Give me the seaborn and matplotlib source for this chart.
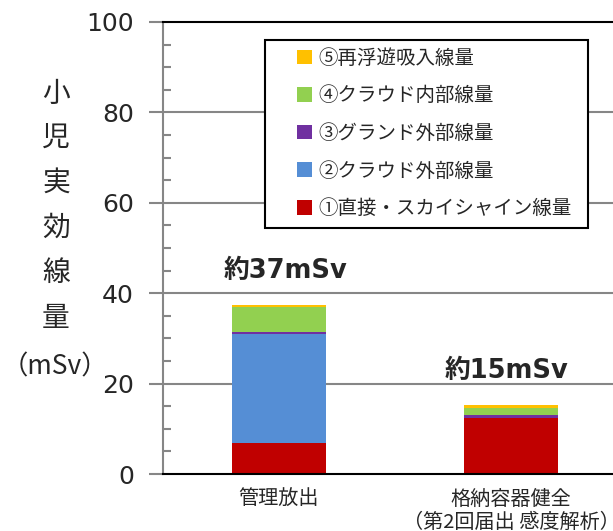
import matplotlib
matplotlib.use("Agg")
import matplotlib.pyplot as plt
import seaborn as sns
import pandas as pd
import numpy as np
from matplotlib.patches import Patch, Rectangle
from matplotlib.ticker import MultipleLocator

sns.set_theme(style="white")
plt.rcParams['font.family'] = ['Noto Sans CJK JP', 'DejaVu Sans']

categories = ["管理放出", "格納容器健全\n（第2回届出 感度解析）"]
series_names = ["①直接・スカイシャイン線量", "②クラウド外部線量", "③グランド外部線量",
                "④クラウド内部線量", "⑤再浮遊吸入線量"]
direct = [6.8, 12.4]
cloud_ext = [24.2, 0.1]
ground_ext = [0.4, 0.5]
cloud_int = [5.6, 1.7]
resusp = [0.4, 0.5]
colors = ["#C00000", "#558ED5", "#7030A0", "#92D050", "#FFC000"]
totals_text = ["約37mSv", "約15mSv"]
yticks = [0, 20, 40, 60, 80, 100]

layers = [direct, cloud_ext, ground_ext, cloud_int, resusp]
cum = np.cumsum(np.array(layers), axis=0)

fig = plt.figure(figsize=(6.13, 5.31), dpi=100)
ax_left = 163/613
ax_w = 1 - ax_left + 0.2
ax = fig.add_axes([ax_left, 1-474/531, ax_w, (474-22)/531])

for i in range(len(layers) - 1, -1, -1):
    df = pd.DataFrame({"cat": categories, "val": cum[i]})
    sns.barplot(data=df, x="cat", y="val", color=colors[i], width=0.405,
                saturation=1, ax=ax, order=categories, edgecolor="none", linewidth=0)

px_per_cat = 232
ax.set_xlim(-0.5, -0.5 + ax_w*613/px_per_cat)
ax.set_ylim(0, 100)
ax.set_yticks(yticks)
ax.yaxis.set_minor_locator(MultipleLocator(5))
ax.tick_params(axis="y", which="major", direction="out", length=10, width=1.5,
               color="#868686", labelsize=18, pad=11, left=True)
ax.tick_params(axis="y", which="minor", direction="in", length=6, width=1.5,
               color="#868686", left=True)
for lab in ax.get_yticklabels():
    lab.set_family(['DejaVu Sans'])
ax.tick_params(axis="x", length=0, labelsize=14.5, pad=11)
ax.set_xlabel("")
ax.set_ylabel("")
for y in [20, 40, 60, 80]:
    ax.axhline(y, color="#868686", lw=1.5, zorder=0)
ax.set_axisbelow(True)
ax.spines["right"].set_visible(False)
ax.spines["left"].set_color("#868686")
ax.spines["left"].set_linewidth(1.5)
ax.spines["top"].set_color("black")
ax.spines["top"].set_linewidth(1.5)
ax.spines["bottom"].set_color("black")
ax.spines["bottom"].set_linewidth(1.5)
ax.set_xticks([0, 1])
ax.set_xticklabels(categories, linespacing=1.12)

ann_font = ['DejaVu Sans', 'Noto Sans CJK JP']
ax.text(0.03, 45.0, totals_text[0], ha="center", va="center", fontsize=18.5,
        fontweight="bold", family=ann_font)
ax.text(0.98, 22.8, totals_text[1], ha="center", va="center", fontsize=18.5,
        fontweight="bold", family=ann_font)

handles = [Patch(facecolor=colors[i], edgecolor="none") for i in range(4, -1, -1)]
labels = [series_names[i] for i in range(4, -1, -1)]
ax.add_patch(Rectangle((265/613, 1-228/531), (588-265)/613, (228-40)/531,
                       transform=fig.transFigure, facecolor="white",
                       edgecolor="black", linewidth=1.5, zorder=4, clip_on=False))
leg = ax.legend(handles, labels, loc="upper left",
                bbox_to_anchor=(293/613, 1-44/531), bbox_transform=fig.transFigure,
                fontsize=14, frameon=False, handlelength=0.78,
                handleheight=0.78, handletextpad=0.3, labelspacing=0.85,
                borderpad=0.2, borderaxespad=0)
leg.set_zorder(6)

ylabel_chars = ["小", "児", "実", "効", "線", "量"]
ys = [94, 138, 183, 228, 273, 318]
for ch, yy in zip(ylabel_chars, ys):
    fig.text(56/613, 1-yy/531, ch, ha="center", va="center", fontsize=20)
fig.text(55/613, 1-367/531, "（mSv）", ha="center", va="center", fontsize=19)

fig.savefig("out.png", dpi=100)
